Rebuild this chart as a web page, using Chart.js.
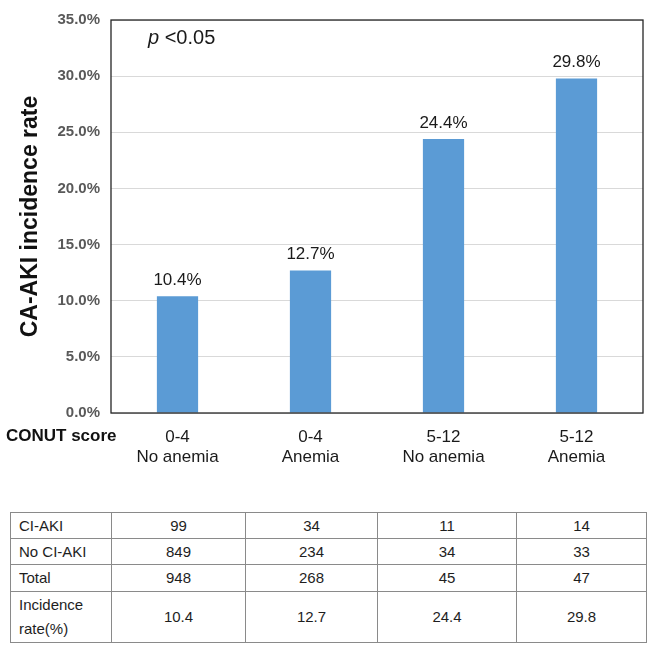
<!DOCTYPE html>
<html>
<head>
<meta charset="utf-8">
<script src="https://cdn.jsdelivr.net/npm/chart.js@4"></script>
<style>
  body { margin: 0; background: #fff; font-family: "Liberation Sans", Arial, sans-serif; }
  #wrap { position: relative; width: 649px; height: 645px; }
  #chart { position: absolute; left: 0; top: 0; }
  #tbl {
    position: absolute; left: 10px; top: 512px;
    border-collapse: collapse; table-layout: fixed;
    font-size: 15px; color: #1e1e1e;
  }
  #tbl td { border: 1px solid #8a8a8a; padding: 0; text-align: center; line-height: 24px; }
  #tbl td.lab { text-align: left; padding-left: 8px; }
</style>
</head>
<body>
<div id="wrap">
  <canvas id="chart" width="649" height="500"></canvas>
  <table id="tbl"></table>
</div>
<script>
// chart data
const categories = [["0-4", "No anemia"], ["0-4", "Anemia"], ["5-12", "No anemia"], ["5-12", "Anemia"]];
const incidence = [10.4, 12.7, 24.4, 29.8];
const yTicks = [0, 5, 10, 15, 20, 25, 30, 35];

// table data
const rowLabels = ["CI-AKI", "No CI-AKI", "Total", "Incidence<br>rate(%)"];
const ciAki = [99, 34, 11, 14];
const noCiAki = [849, 234, 34, 33];
const totals = [948, 268, 45, 47];
const rates = ["10.4", "12.7", "24.4", "29.8"];

const FONT = "'Liberation Sans', Arial, sans-serif";

// bar value labels, p value, frame and "CONUT score"
const extras = {
  id: "extras",
  afterDatasetsDraw(chart) {
    const ctx = chart.ctx;
    const area = chart.chartArea;
    ctx.save();
    ctx.fillStyle = "#1a1a1a";
    ctx.font = "17px " + FONT;
    ctx.textAlign = "center";
    ctx.textBaseline = "middle";
    chart.getDatasetMeta(0).data.forEach((bar, i) => {
      ctx.fillText(incidence[i].toFixed(1) + "%", bar.x, bar.y - 16);
    });

    // frame
    ctx.strokeStyle = "#262626";
    ctx.lineWidth = 1.3;
    ctx.strokeRect(area.left, area.top, area.right - area.left, area.bottom - area.top);

    // p value
    ctx.textAlign = "left";
    ctx.font = "italic 20px " + FONT;
    ctx.fillText("p", 148, 38);
    const pw = ctx.measureText("p ").width;
    ctx.font = "20px " + FONT;
    ctx.fillText("<0.05", 148 + pw, 38);

    ctx.font = "bold 17px " + FONT;
    ctx.fillStyle = "#111";
    ctx.fillText("CONUT score", 6, 436);
    ctx.restore();
  }
};

new Chart(document.getElementById("chart"), {
  type: "bar",
  data: {
    labels: categories,
    datasets: [{
      data: incidence,
      backgroundColor: "#5B9BD5",
      borderWidth: 0,
      barPercentage: 0.31,
      categoryPercentage: 1.0
    }]
  },
  options: {
    responsive: false,
    devicePixelRatio: 1,
    animation: false,
    layout: { padding: { top: 11, right: 6, left: 0, bottom: 0 } },
    plugins: { legend: { display: false }, tooltip: { enabled: false } },
    scales: {
      x: {
        grid: { display: false, drawTicks: false },
        border: { display: false },
        ticks: {
          color: "#1a1a1a",
          font: { family: FONT, size: 17 },
          padding: 14,
          maxRotation: 0
        },
        afterFit(scale) { scale.height = 87; }
      },
      y: {
        min: 0,
        max: 35,
        afterBuildTicks(scale) { scale.ticks = yTicks.map(v => ({ value: v })); },
        grid: { color: "#d9d9d9", drawTicks: false },
        border: { display: false },
        ticks: {
          color: "#595959",
          font: { family: FONT, size: 15, weight: "bold" },
          padding: 11,
          callback: v => v.toFixed(1) + "%"
        },
        title: {
          display: true,
          text: "CA-AKI incidence rate",
          color: "#111",
          font: { family: FONT, size: 23, weight: "bold" },
          padding: { top: 17, bottom: 0 }
        },
        afterFit(scale) { scale.width = 111; }
      }
    }
  },
  plugins: [extras]
});

// table below chart
const colWidths = [101, 134, 132, 139, 130];
const rowHeights = [26, 26, 27, 51];
const rows = [ciAki, noCiAki, totals, rates];
const tbl = document.getElementById("tbl");
let html = "<colgroup>" + colWidths.map(w => `<col style="width:${w}px">`).join("") + "</colgroup>";
rows.forEach((vals, r) => {
  html += `<tr style="height:${rowHeights[r]}px"><td class="lab">${rowLabels[r]}</td>`;
  vals.forEach(v => { html += `<td>${v}</td>`; });
  html += "</tr>";
});
tbl.innerHTML = html;
tbl.style.width = colWidths.reduce((a, b) => a + b, 0) + "px";
</script>
</body>
</html>
